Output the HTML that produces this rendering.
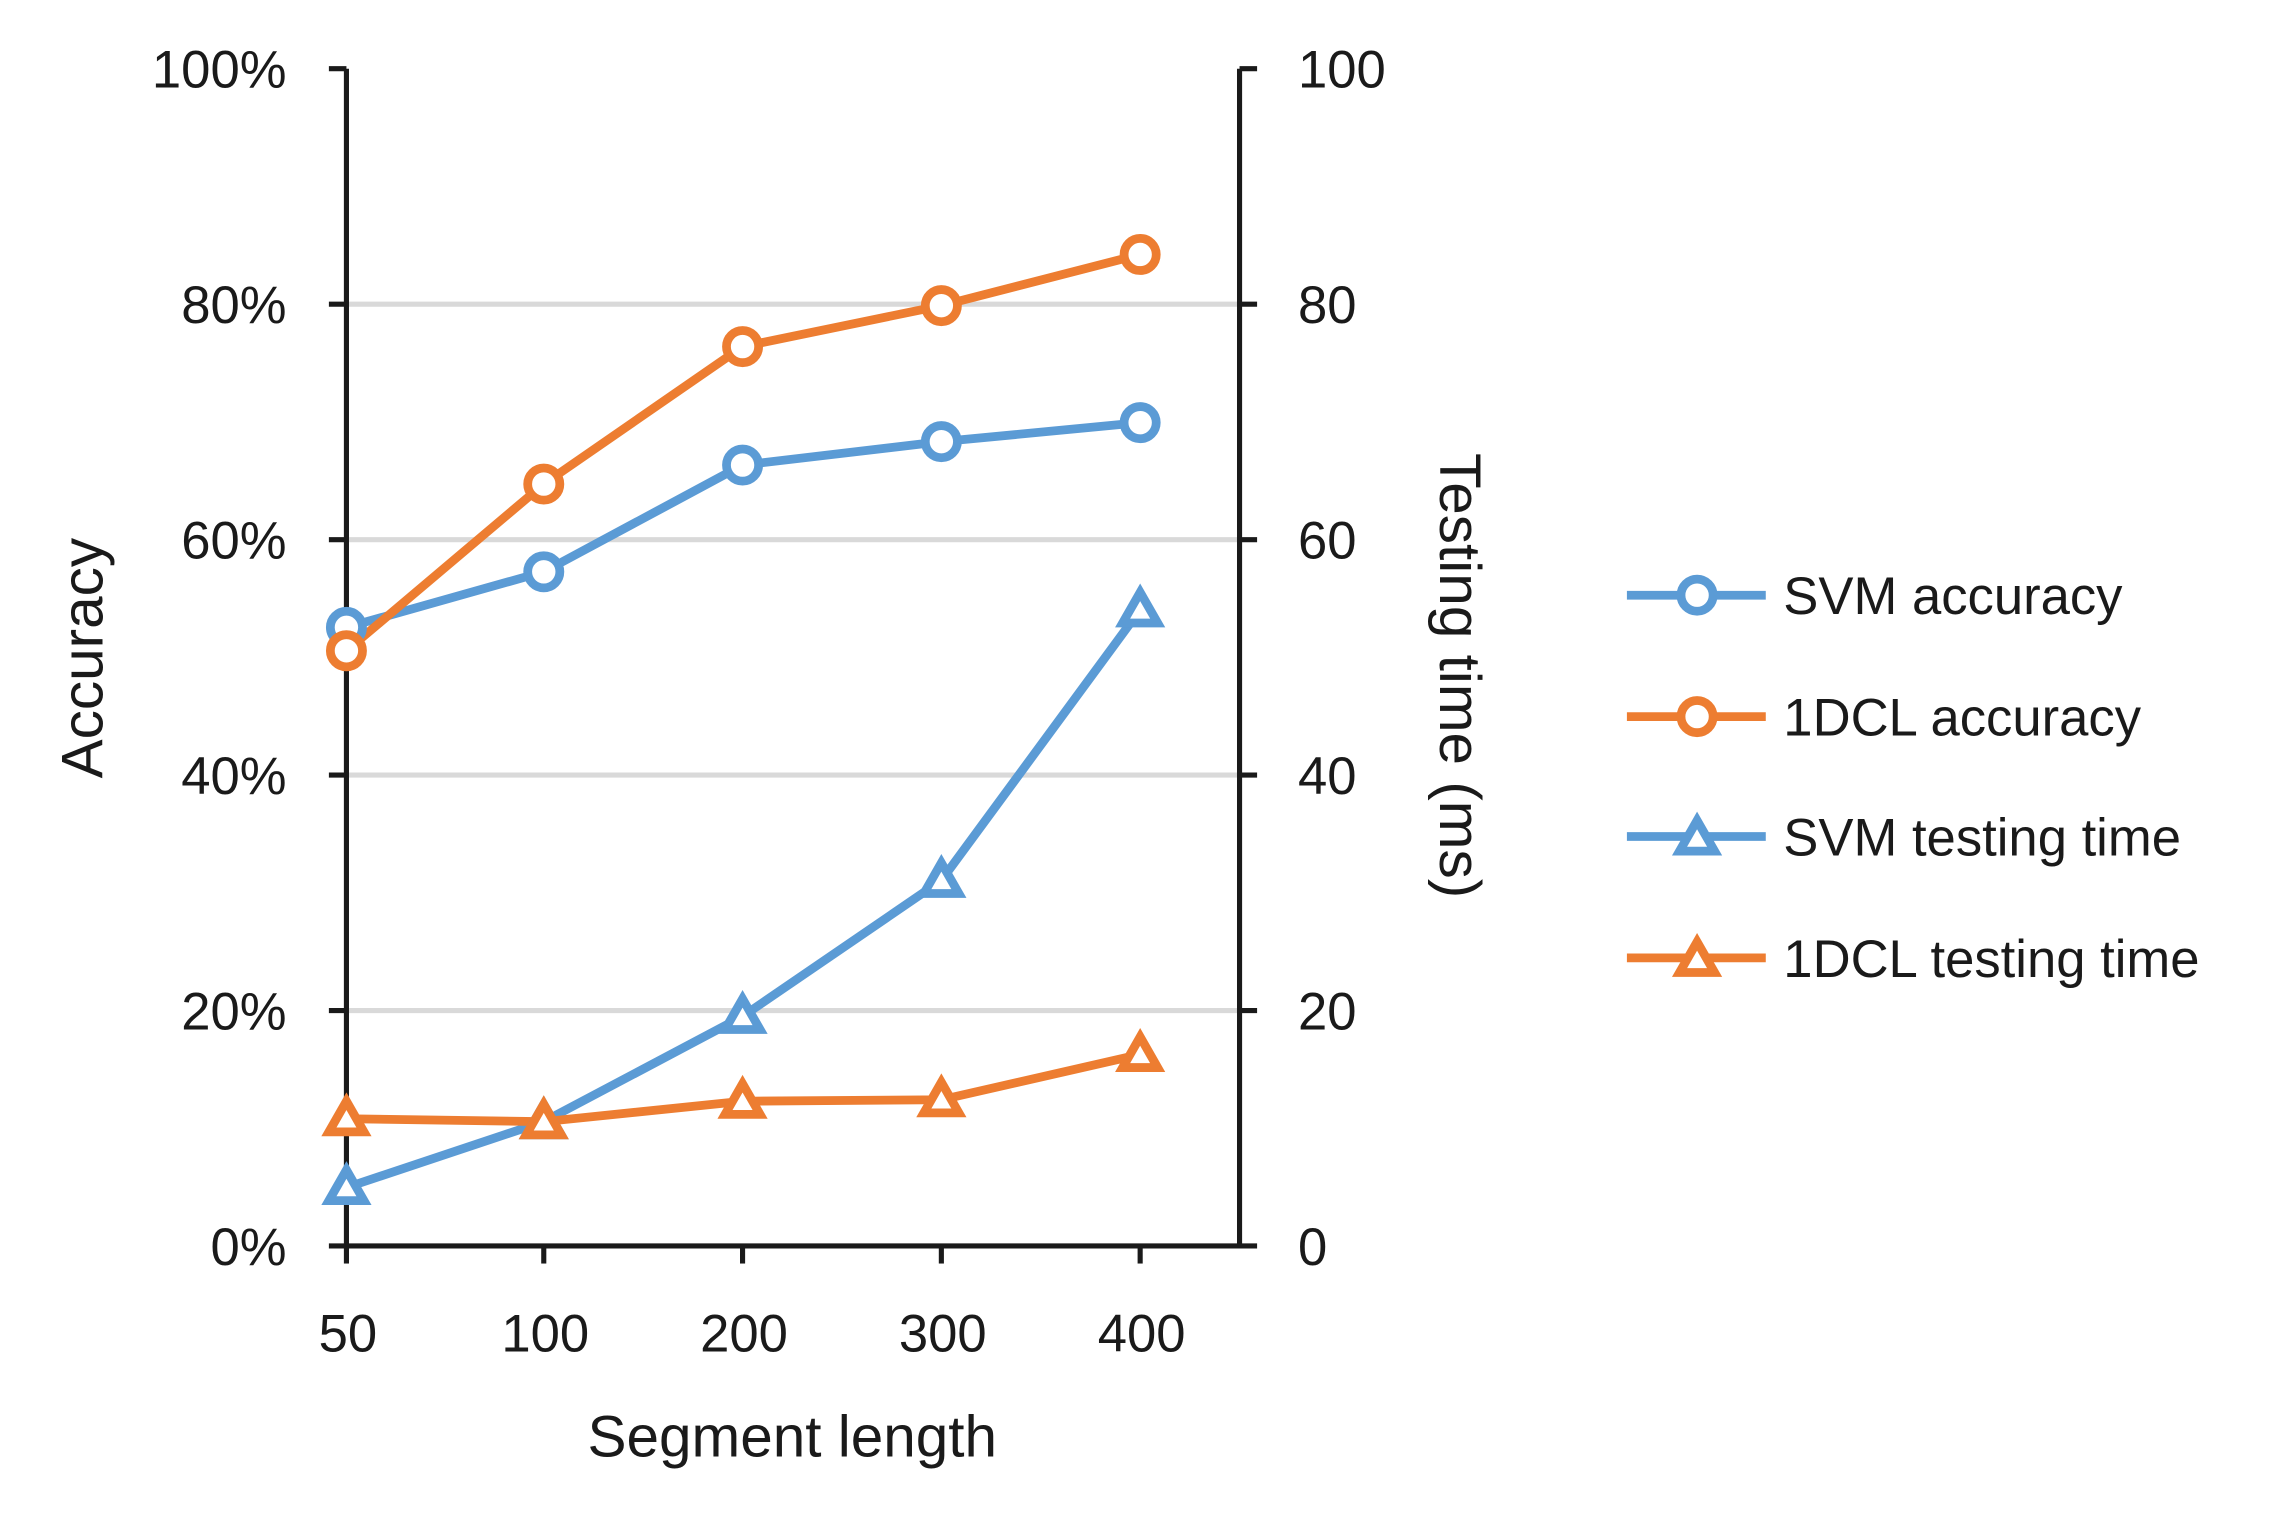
<!DOCTYPE html>
<html><head><style>html,body{margin:0;padding:0;background:#fff}svg{display:block}</style></head><body>
<svg width="2292" height="1518" viewBox="0 0 1568 1038" preserveAspectRatio="none" xmlns="http://www.w3.org/2000/svg" font-family="Liberation Sans, sans-serif" font-size="36" fill="#1a1a1a">
<g stroke="#d9d9d9" stroke-width="3.5">
<line x1="237" y1="208" x2="848" y2="208"/><line x1="237" y1="369" x2="848" y2="369"/><line x1="237" y1="530" x2="848" y2="530"/><line x1="237" y1="691" x2="848" y2="691"/>
</g>
<g stroke="#1a1a1a" stroke-width="3.5" fill="none">
<line x1="237" y1="47" x2="237" y2="852"/><line x1="848" y1="47" x2="848" y2="852"/><line x1="225" y1="852" x2="860" y2="852"/>
<line x1="225" y1="47" x2="237" y2="47"/><line x1="225" y1="208" x2="237" y2="208"/><line x1="225" y1="369" x2="237" y2="369"/><line x1="225" y1="530" x2="237" y2="530"/><line x1="225" y1="691" x2="237" y2="691"/>
<line x1="848" y1="47" x2="860" y2="47"/><line x1="848" y1="208" x2="860" y2="208"/><line x1="848" y1="369" x2="860" y2="369"/><line x1="848" y1="530" x2="860" y2="530"/><line x1="848" y1="691" x2="860" y2="691"/>
<line x1="237" y1="852" x2="237" y2="864"/><line x1="372" y1="852" x2="372" y2="864"/><line x1="508" y1="852" x2="508" y2="864"/><line x1="644" y1="852" x2="644" y2="864"/><line x1="780" y1="852" x2="780" y2="864"/>
</g>
<g text-anchor="end">
<text x="196" y="60">100%</text><text x="196" y="221">80%</text><text x="196" y="382">60%</text><text x="196" y="543">40%</text><text x="196" y="704">20%</text><text x="196" y="865">0%</text>
</g>
<g>
<text x="888" y="60">100</text><text x="888" y="221">80</text><text x="888" y="382">60</text><text x="888" y="543">40</text><text x="888" y="704">20</text><text x="888" y="865">0</text>
</g>
<g text-anchor="middle">
<text x="238" y="924">50</text><text x="373" y="924">100</text><text x="509" y="924">200</text><text x="645" y="924">300</text><text x="781" y="924">400</text>
<text x="542" y="996" font-size="40">Segment length</text>
<text transform="translate(70,450) rotate(-90)" font-size="40">Accuracy</text>
<text transform="translate(985,462) rotate(90)" font-size="40">Testing time (ms)</text>
</g>
<g fill="none" stroke-width="6" stroke-linejoin="round">
<polyline stroke="#5b9bd5" points="237,429 372,391 508,318 644,302 780,289"/>
<polyline stroke="#ed7d31" points="237,445 372,331 508,237 644,209 780,174"/>
<polyline stroke="#5b9bd5" points="237,812 372,767 508,695 644,602 780,417"/>
<polyline stroke="#ed7d31" points="237,765 372,767 508,753 644,752 780,721"/>
</g>
<g fill="#fff" stroke-width="6">
<g stroke="#5b9bd5"><circle cx="237" cy="429" r="11"/><circle cx="372" cy="391" r="11"/><circle cx="508" cy="318" r="11"/><circle cx="644" cy="302" r="11"/><circle cx="780" cy="289" r="11"/></g>
<g stroke="#ed7d31"><circle cx="237" cy="445" r="11"/><circle cx="372" cy="331" r="11"/><circle cx="508" cy="237" r="11"/><circle cx="644" cy="209" r="11"/><circle cx="780" cy="174" r="11"/></g>
<g stroke="#5b9bd5"><path d="M237,800 l12,21 h-24z"/><path d="M372,755 l12,21 h-24z"/><path d="M508,683 l12,21 h-24z"/><path d="M644,590 l12,21 h-24z"/><path d="M780,405 l12,21 h-24z"/></g>
<g stroke="#ed7d31"><path d="M237,753 l12,21 h-24z"/><path d="M372,755 l12,21 h-24z"/><path d="M508,741 l12,21 h-24z"/><path d="M644,740 l12,21 h-24z"/><path d="M780,709 l12,21 h-24z"/></g>
</g>
<g stroke-width="6">
<line x1="1113" y1="407" x2="1208" y2="407" stroke="#5b9bd5"/><circle cx="1161" cy="407" r="11" fill="#fff" stroke="#5b9bd5"/>
<line x1="1113" y1="490" x2="1208" y2="490" stroke="#ed7d31"/><circle cx="1161" cy="490" r="11" fill="#fff" stroke="#ed7d31"/>
<line x1="1113" y1="572" x2="1208" y2="572" stroke="#5b9bd5"/><path d="M1161,561 l12,21 h-24z" fill="#fff" stroke="#5b9bd5"/>
<line x1="1113" y1="655" x2="1208" y2="655" stroke="#ed7d31"/><path d="M1161,644 l12,21 h-24z" fill="#fff" stroke="#ed7d31"/>
</g>
<g>
<text x="1220" y="420">SVM accuracy</text><text x="1220" y="503">1DCL accuracy</text><text x="1220" y="585">SVM testing time</text><text x="1220" y="668">1DCL testing time</text>
</g>
</svg>
</body></html>
